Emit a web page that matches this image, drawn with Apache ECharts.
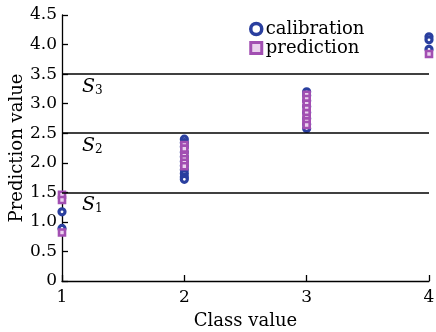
<!DOCTYPE html>
<html><head><meta charset="utf-8">
<script src="https://cdn.jsdelivr.net/npm/echarts@6/dist/echarts.min.js"></script>
<style>html,body{margin:0;padding:0;background:#fff}#c{width:436px;height:332px}</style>
</head><body><div id="c"></div>
<script>
var calibX = [1,1, 2,2,2,2,2,2,2,2,2,2,2, 3,3,3,3,3,3,3,3, 4,4,4];
var calibY = [1.17,0.89, 2.40,2.34,2.27,2.18,2.10,2.02,1.95,1.88,1.82,1.76,1.72, 3.20,3.14,3.05,2.95,2.85,2.75,2.65,2.58, 4.13,4.08,3.92];
var predX = [1,1,1, 2,2,2,2,2,2, 3,3,3,3,3,3,3,3, 4];
var predY = [1.46,1.37,0.82, 2.30,2.24,2.12,2.06,2.00,1.94, 3.15,3.08,3.00,2.92,2.84,2.76,2.70,2.64, 3.84];
var thresholds = [1.5, 2.5, 3.5];
var thresholdNames = ['1', '2', '3'];
var yTickLabels = ['0','0.5','1.0','1.5','2.0','2.5','3.0','3.5','4.0','4.5'];
var xTickLabels = ['1','2','3','4'];

function pairs(xs, ys){ return xs.map(function(x,i){ return [x, ys[i]]; }); }
var FONT = 'DejaVu Serif';
var BLUE = '#2a3f9f', PURPLE = '#a24fb2';
var chart = echarts.init(document.getElementById('c'), null, {renderer:'canvas'});
chart.setOption({
  animation: false,
  backgroundColor: '#fff',
  textStyle: {fontFamily: FONT},
  grid: {left: 62, right: 7, top: 15, bottom: 51, containLabel: false, outerBoundsMode: 'none'},
  legend: {
    orient: 'vertical', left: 244, top: 15, itemWidth: 11, itemHeight: 11, itemGap: 1,
    textStyle: {fontFamily: FONT, fontSize: 18, color: '#000', padding:[0,0,0,-1]},
    data: [
      {name:'calibration', icon:'circle', itemStyle: {color: '#fff', borderColor: BLUE, borderWidth: 3.5}},
      {name:'prediction', icon:'rect', itemStyle: {color: '#ead2ee', borderColor: PURPLE, borderWidth: 3}}
    ]
  },
  xAxis: {
    type: 'value', min: 1, max: 4, interval: 1,
    name: 'Class value', nameLocation: 'middle', nameGap: 31, nameMoveOverlap: false,
    nameTextStyle: {fontFamily: FONT, fontSize: 18, color: '#000'},
    axisLine: {lineStyle: {color: '#000', width: 1.3}},
    axisTick: {inside: true, length: 6, lineStyle: {color: '#000', width: 1.3}},
    axisLabel: {fontFamily: FONT, fontSize: 17, color: '#000', margin: 8,
      formatter: function(v){ return xTickLabels[Math.round(v-1)]; }},
    splitLine: {show: false}
  },
  yAxis: {
    type: 'value', min: 0, max: 4.5, interval: 0.5,
    name: 'Prediction value', nameLocation: 'middle', nameGap: 36, nameMoveOverlap: false,
    nameTextStyle: {fontFamily: FONT, fontSize: 18, color: '#000'},
    axisLine: {show: true, lineStyle: {color: '#000', width: 1.3}},
    axisTick: {show: true, inside: true, length: 6, lineStyle: {color: '#000', width: 1.3}},
    axisLabel: {fontFamily: FONT, fontSize: 17, color: '#000', margin: 5,
      formatter: function(v){ return yTickLabels[Math.round(v*2)]; }},
    splitLine: {show: false}
  },
  series: [
    {
      name: 'calibration', type: 'scatter', symbol: 'circle', symbolSize: 6,
      data: pairs(calibX, calibY), clip: false, z: 3,
      itemStyle: {color: '#ffffff', borderColor: BLUE, borderWidth: 3.2, opacity: 1},
      markLine: {
        silent: true, symbol: 'none', animation: false,
        lineStyle: {color: '#000', width: 1.5, type: 'solid'},
        label: {
          show: true, position: 'insideStartBottom', distance: [20, 2],
          formatter: function(p){ return '{s|S}{sub|' + thresholdNames[thresholds.indexOf(p.value)] + '}'; },
          rich: {
            s: {fontFamily: FONT, fontStyle: 'italic', fontSize: 19, color: '#000'},
            sub: {fontFamily: FONT, fontSize: 12, color: '#000', verticalAlign: 'bottom', padding: [9,0,0,0]}
          }
        },
        data: thresholds.map(function(t){ return {yAxis: t}; })
      }
    },
    {
      name: 'prediction', type: 'scatter', symbol: 'rect', symbolSize: 6,
      data: pairs(predX, predY), clip: false, z: 4,
      itemStyle: {color: '#ead2ee', borderColor: PURPLE, borderWidth: 2.6, opacity: 1}
    }
  ]
});
</script></body></html>
